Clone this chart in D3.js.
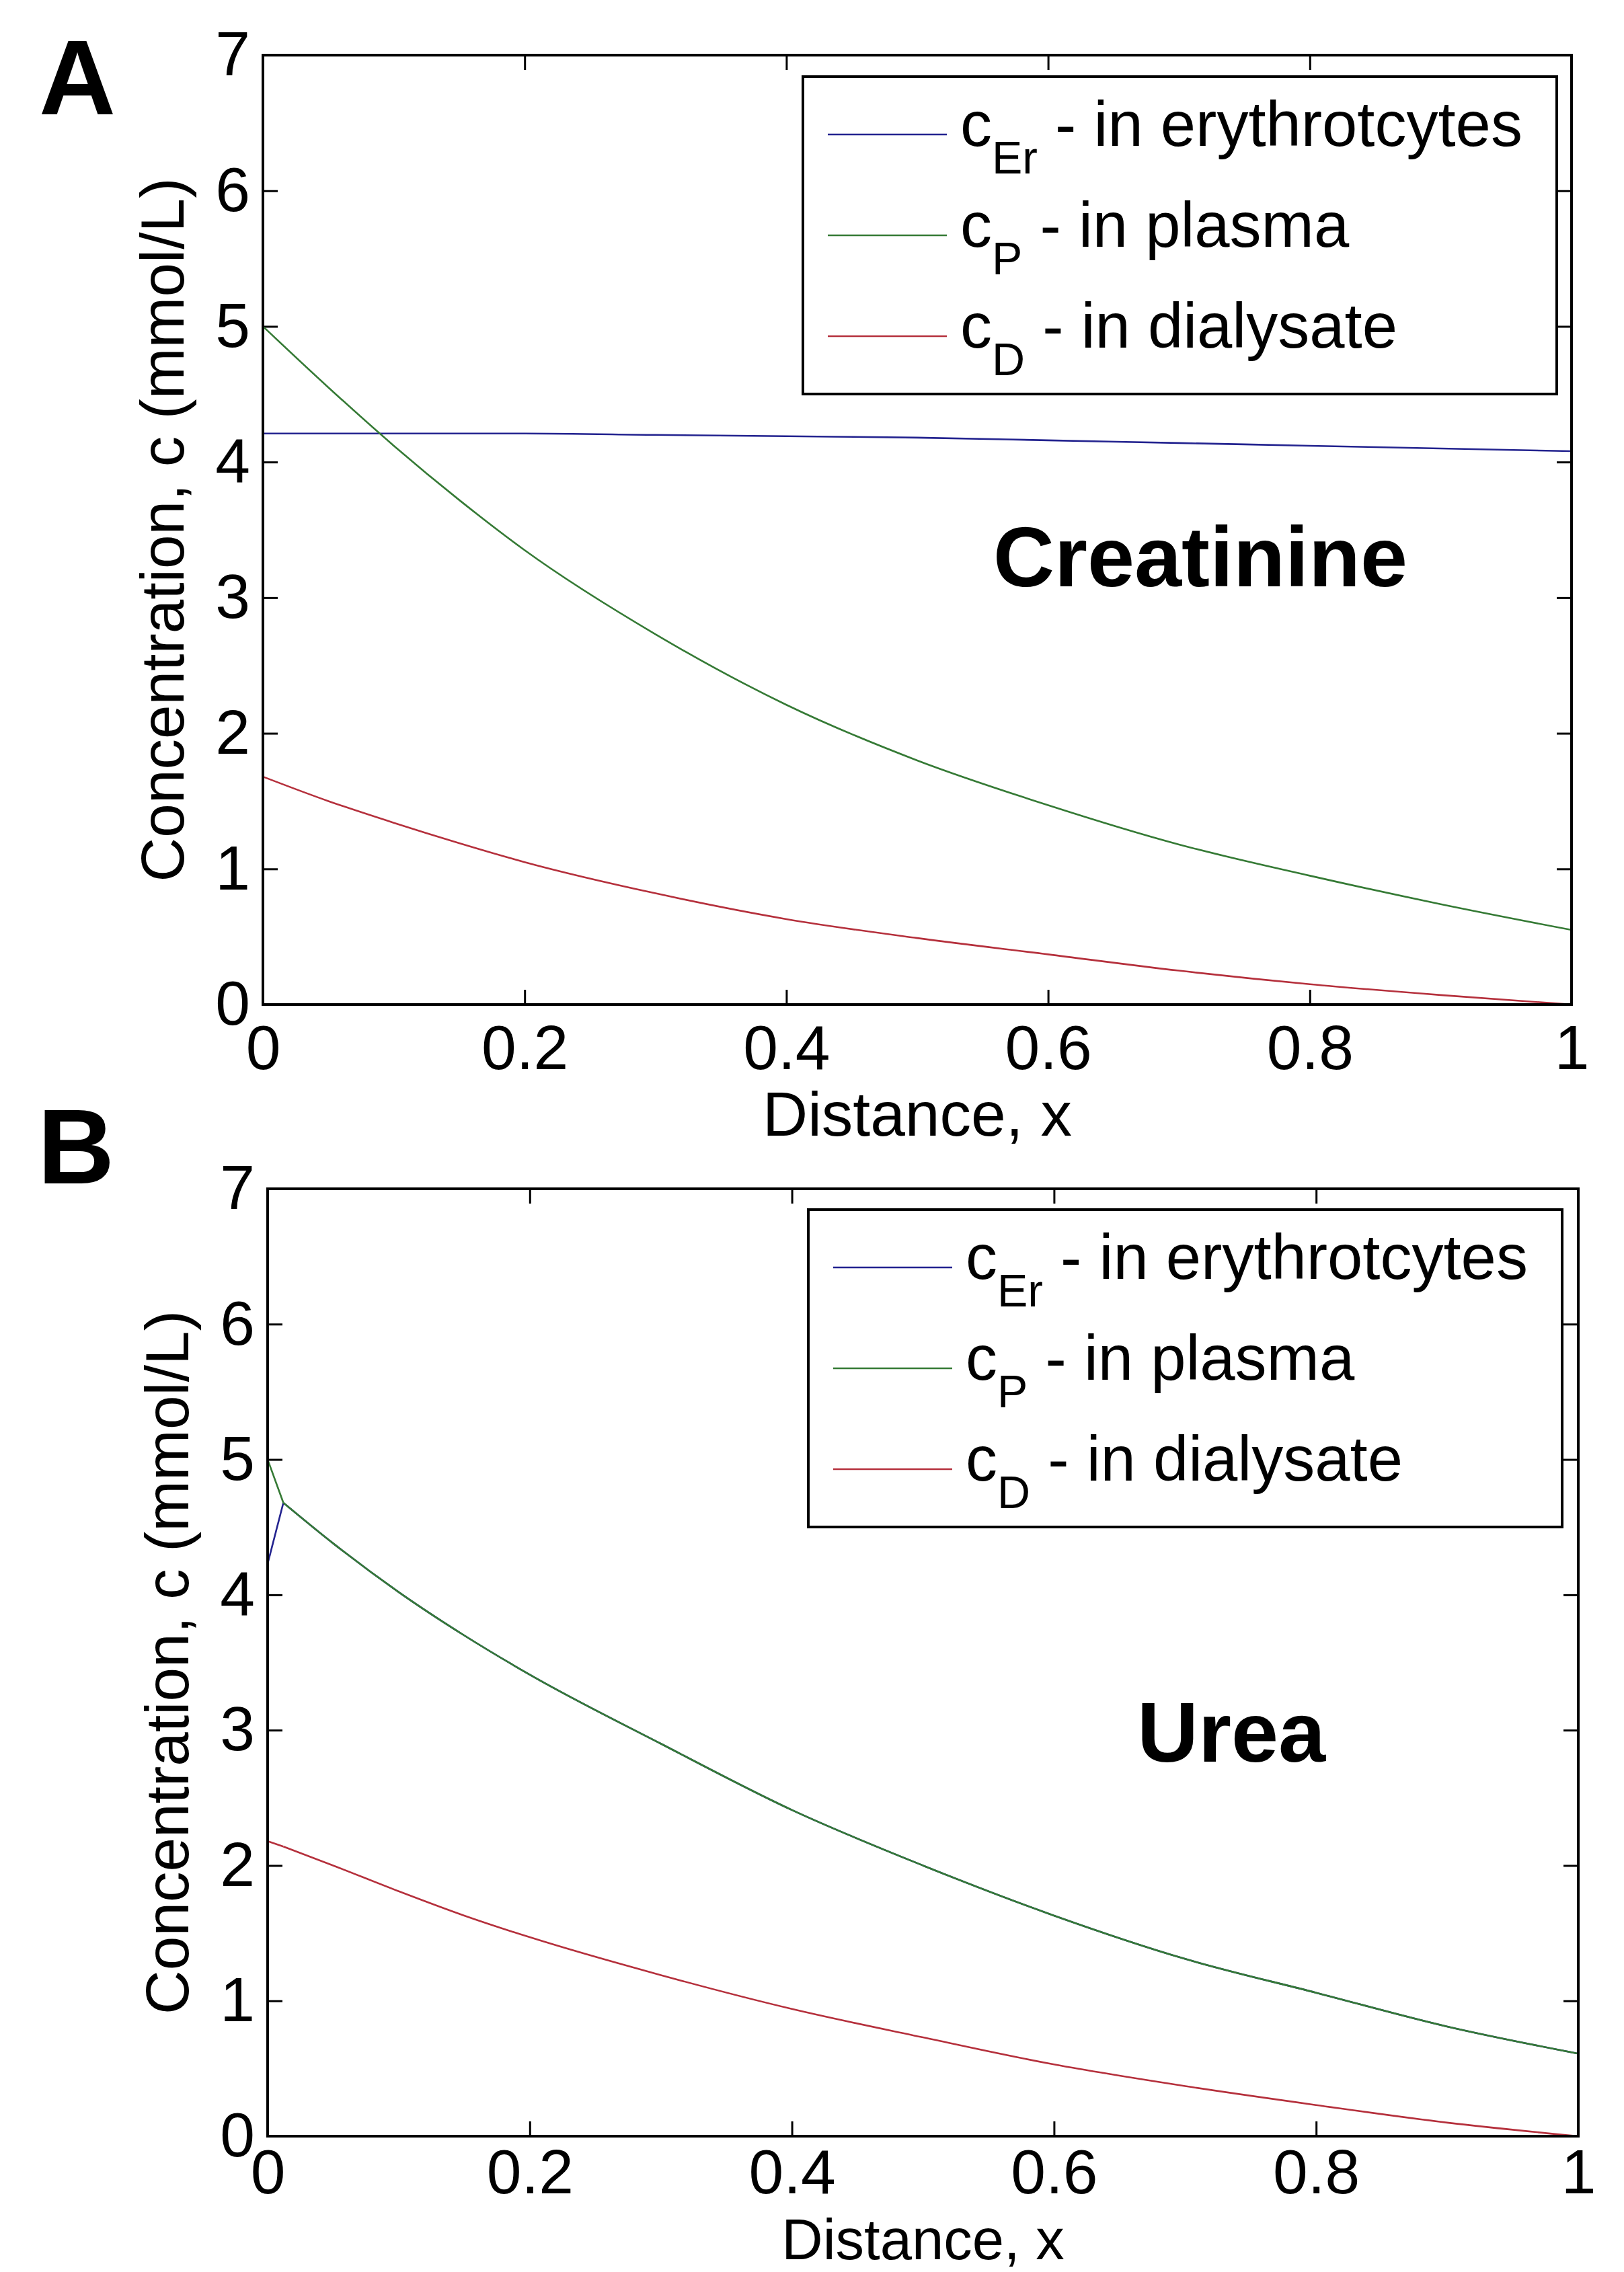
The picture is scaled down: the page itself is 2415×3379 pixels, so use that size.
<!DOCTYPE html>
<html>
<head>
<meta charset="utf-8">
<script src="https://cdn.jsdelivr.net/npm/d3@7"></script>
<style>
  body { margin: 0; background: #fff; }
  text { font-family: "Liberation Sans", Arial, sans-serif; }
</style>
</head>
<body>
<div id="chart"></div>
<script>
// ---- data ----
const xTicks = [0, 0.2, 0.4, 0.6, 0.8, 1];
const yTicks = [0, 1, 2, 3, 4, 5, 6, 7];

const seriesNames = ['Er', 'P', 'D'];
const seriesText = [' - in erythrotcytes', ' - in plasma', ' - in dialysate'];
const seriesColors = ['#23238f', '#357a35', '#b5303c'];

// A: creatinine
const xA = [0, 0.05, 0.1, 0.15, 0.2, 0.3, 0.4, 0.5, 0.6, 0.7, 0.8, 0.9, 1.0];
const erA = [4.21, 4.21, 4.21, 4.21, 4.21, 4.20, 4.19, 4.18, 4.16, 4.14, 4.12, 4.10, 4.08];
const plA = [5.0, 4.55, 4.12, 3.72, 3.35, 2.73, 2.21, 1.80, 1.47, 1.18, 0.95, 0.74, 0.55];
const diA = [1.68, 1.50, 1.34, 1.19, 1.05, 0.82, 0.63, 0.49, 0.37, 0.25, 0.15, 0.07, 0.0];

// B: urea (blue and green meet at x = 0.012 and run together after it)
const xB = [0, 0.012, 0.05, 0.1, 0.15, 0.2, 0.3, 0.4, 0.5, 0.6, 0.7, 0.8, 0.9, 1.0];
const erB = [4.23, 4.68, 4.38, 4.02, 3.70, 3.41, 2.90, 2.41, 2.00, 1.63, 1.31, 1.06, 0.81, 0.61];
const plB = [5.0, 4.68, 4.38, 4.02, 3.70, 3.41, 2.90, 2.41, 2.00, 1.63, 1.31, 1.06, 0.81, 0.61];
const diB = [2.18, 2.14, 2.00, 1.81, 1.63, 1.47, 1.19, 0.94, 0.73, 0.53, 0.37, 0.23, 0.10, 0.0];

const W = 2415, H = 3379;
const svg = d3.select('#chart').append('svg')
    .attr('width', W)
    .attr('height', H);
svg.append('rect').attr('width', W).attr('height', H).attr('fill', '#fff');

const FONT = 93;

function drawPanel(p) {
    const x = d3.scaleLinear().domain([0, 1]).range([p.left, p.right]);
    const y = d3.scaleLinear().domain([0, 7]).range([p.bottom, p.top]);
    const g = svg.append('g');

    // ticks (inward, on all four sides)
    const axB = g.append('g').attr('transform', `translate(0,${p.bottom})`)
        .call(d3.axisBottom(x).tickValues(xTicks).tickSize(-22).tickSizeOuter(0)
            .tickPadding(p.xPad).tickFormat(d => String(d)));
    const axT = g.append('g').attr('transform', `translate(0,${p.top})`)
        .call(d3.axisTop(x).tickValues(xTicks).tickSize(-22).tickSizeOuter(0).tickFormat(''));
    const axL = g.append('g').attr('transform', `translate(${p.left},0)`)
        .call(d3.axisLeft(y).tickValues(yTicks).tickSize(-22).tickSizeOuter(0)
            .tickPadding(19).tickFormat(d => String(d)));
    const axR = g.append('g').attr('transform', `translate(${p.right},0)`)
        .call(d3.axisRight(y).tickValues(yTicks).tickSize(-22).tickSizeOuter(0).tickFormat(''));
    [axB, axT, axL, axR].forEach(a => {
        a.select('.domain').remove();
        a.selectAll('line').attr('stroke', '#000').attr('stroke-width', 3);
        a.selectAll('text').attr('fill', '#000').style('font-size', FONT + 'px')
            .style('font-family', '"Liberation Sans", Arial, sans-serif');
    });

    // data lines; a corner index splits the path so the kink stays sharp
    const line = d3.line()
        .x(d => x(d[0]))
        .y(d => y(d[1]))
        .curve(d3.curveMonotoneX);
    p.series.forEach((s, i) => {
        const pts = s.xs.map((v, k) => [v, s.ys[k]]);
        const parts = p.corner ? [pts.slice(0, p.corner + 1), pts.slice(p.corner)] : [pts];
        parts.forEach(part => {
            g.append('path')
                .datum(part)
                .attr('fill', 'none')
                .attr('stroke', seriesColors[i])
                .attr('stroke-width', 2.6)
                .attr('d', line);
        });
    });

    // frame
    g.append('rect')
        .attr('x', p.left).attr('y', p.top)
        .attr('width', p.right - p.left).attr('height', p.bottom - p.top)
        .attr('fill', 'none').attr('stroke', '#000').attr('stroke-width', 4);

    // axis labels
    g.append('text')
        .attr('x', (p.left + p.right) / 2).attr('y', p.bottom + p.xlabDy)
        .attr('text-anchor', 'middle')
        .style('font-size', p.xlabSize + 'px')
        .text('Distance, x');
    g.append('text')
        .attr('transform', `translate(${p.left - 118},${(p.top + p.bottom) / 2}) rotate(-90)`)
        .attr('text-anchor', 'middle')
        .style('font-size', '91px')
        .text('Concentration, c (mmol/L)');

    // legend
    const lg = g.append('g').attr('transform', `translate(${p.legX},${p.legY})`);
    lg.append('rect')
        .attr('width', 1121).attr('height', 472)
        .attr('fill', '#fff').attr('stroke', '#000').attr('stroke-width', 4);
    seriesNames.forEach((name, i) => {
        const ry = 86 + i * 150;
        lg.append('line')
            .attr('x1', 37).attr('x2', 214)
            .attr('y1', ry).attr('y2', ry)
            .attr('stroke', seriesColors[i]).attr('stroke-width', 2.6);
        const t = lg.append('text')
            .attr('x', 234).attr('y', ry + 17)
            .style('font-size', '94px')
            .style('white-space', 'pre');
        t.append('tspan').text('c');
        t.append('tspan').attr('dy', 41).style('font-size', '68px').text(name);
        t.append('tspan').attr('dy', -41).text(seriesText[i]);
    });

    // panel letter and compound name
    g.append('text')
        .attr('x', p.letterX).attr('y', p.letterY)
        .style('font-size', '158px').style('font-weight', 'bold')
        .text(p.letter);
    g.append('text')
        .attr('x', p.nameX).attr('y', p.nameY)
        .attr('text-anchor', 'middle')
        .style('font-size', '126px').style('font-weight', 'bold')
        .text(p.name);
}

drawPanel({
    left: 391, right: 2337, top: 82, bottom: 1494,
    xPad: 30, xlabDy: 195, xlabSize: 93,
    legX: 1194, legY: 114,
    letter: 'A', letterX: 58, letterY: 170,
    name: 'Creatinine', nameX: 1785, nameY: 872,
    series: [
        { xs: xA, ys: erA },
        { xs: xA, ys: plA },
        { xs: xA, ys: diA }
    ]
});

drawPanel({
    left: 398, right: 2347, top: 1768, bottom: 3177,
    xPad: 19, xlabDy: 183, xlabSize: 85,
    legX: 1202, legY: 1799,
    letter: 'B', letterX: 56, letterY: 1760,
    name: 'Urea', nameX: 1831, nameY: 2620,
    corner: 1,
    series: [
        { xs: xB, ys: erB },
        { xs: xB, ys: plB },
        { xs: xB, ys: diB }
    ]
});
</script>
</body>
</html>
